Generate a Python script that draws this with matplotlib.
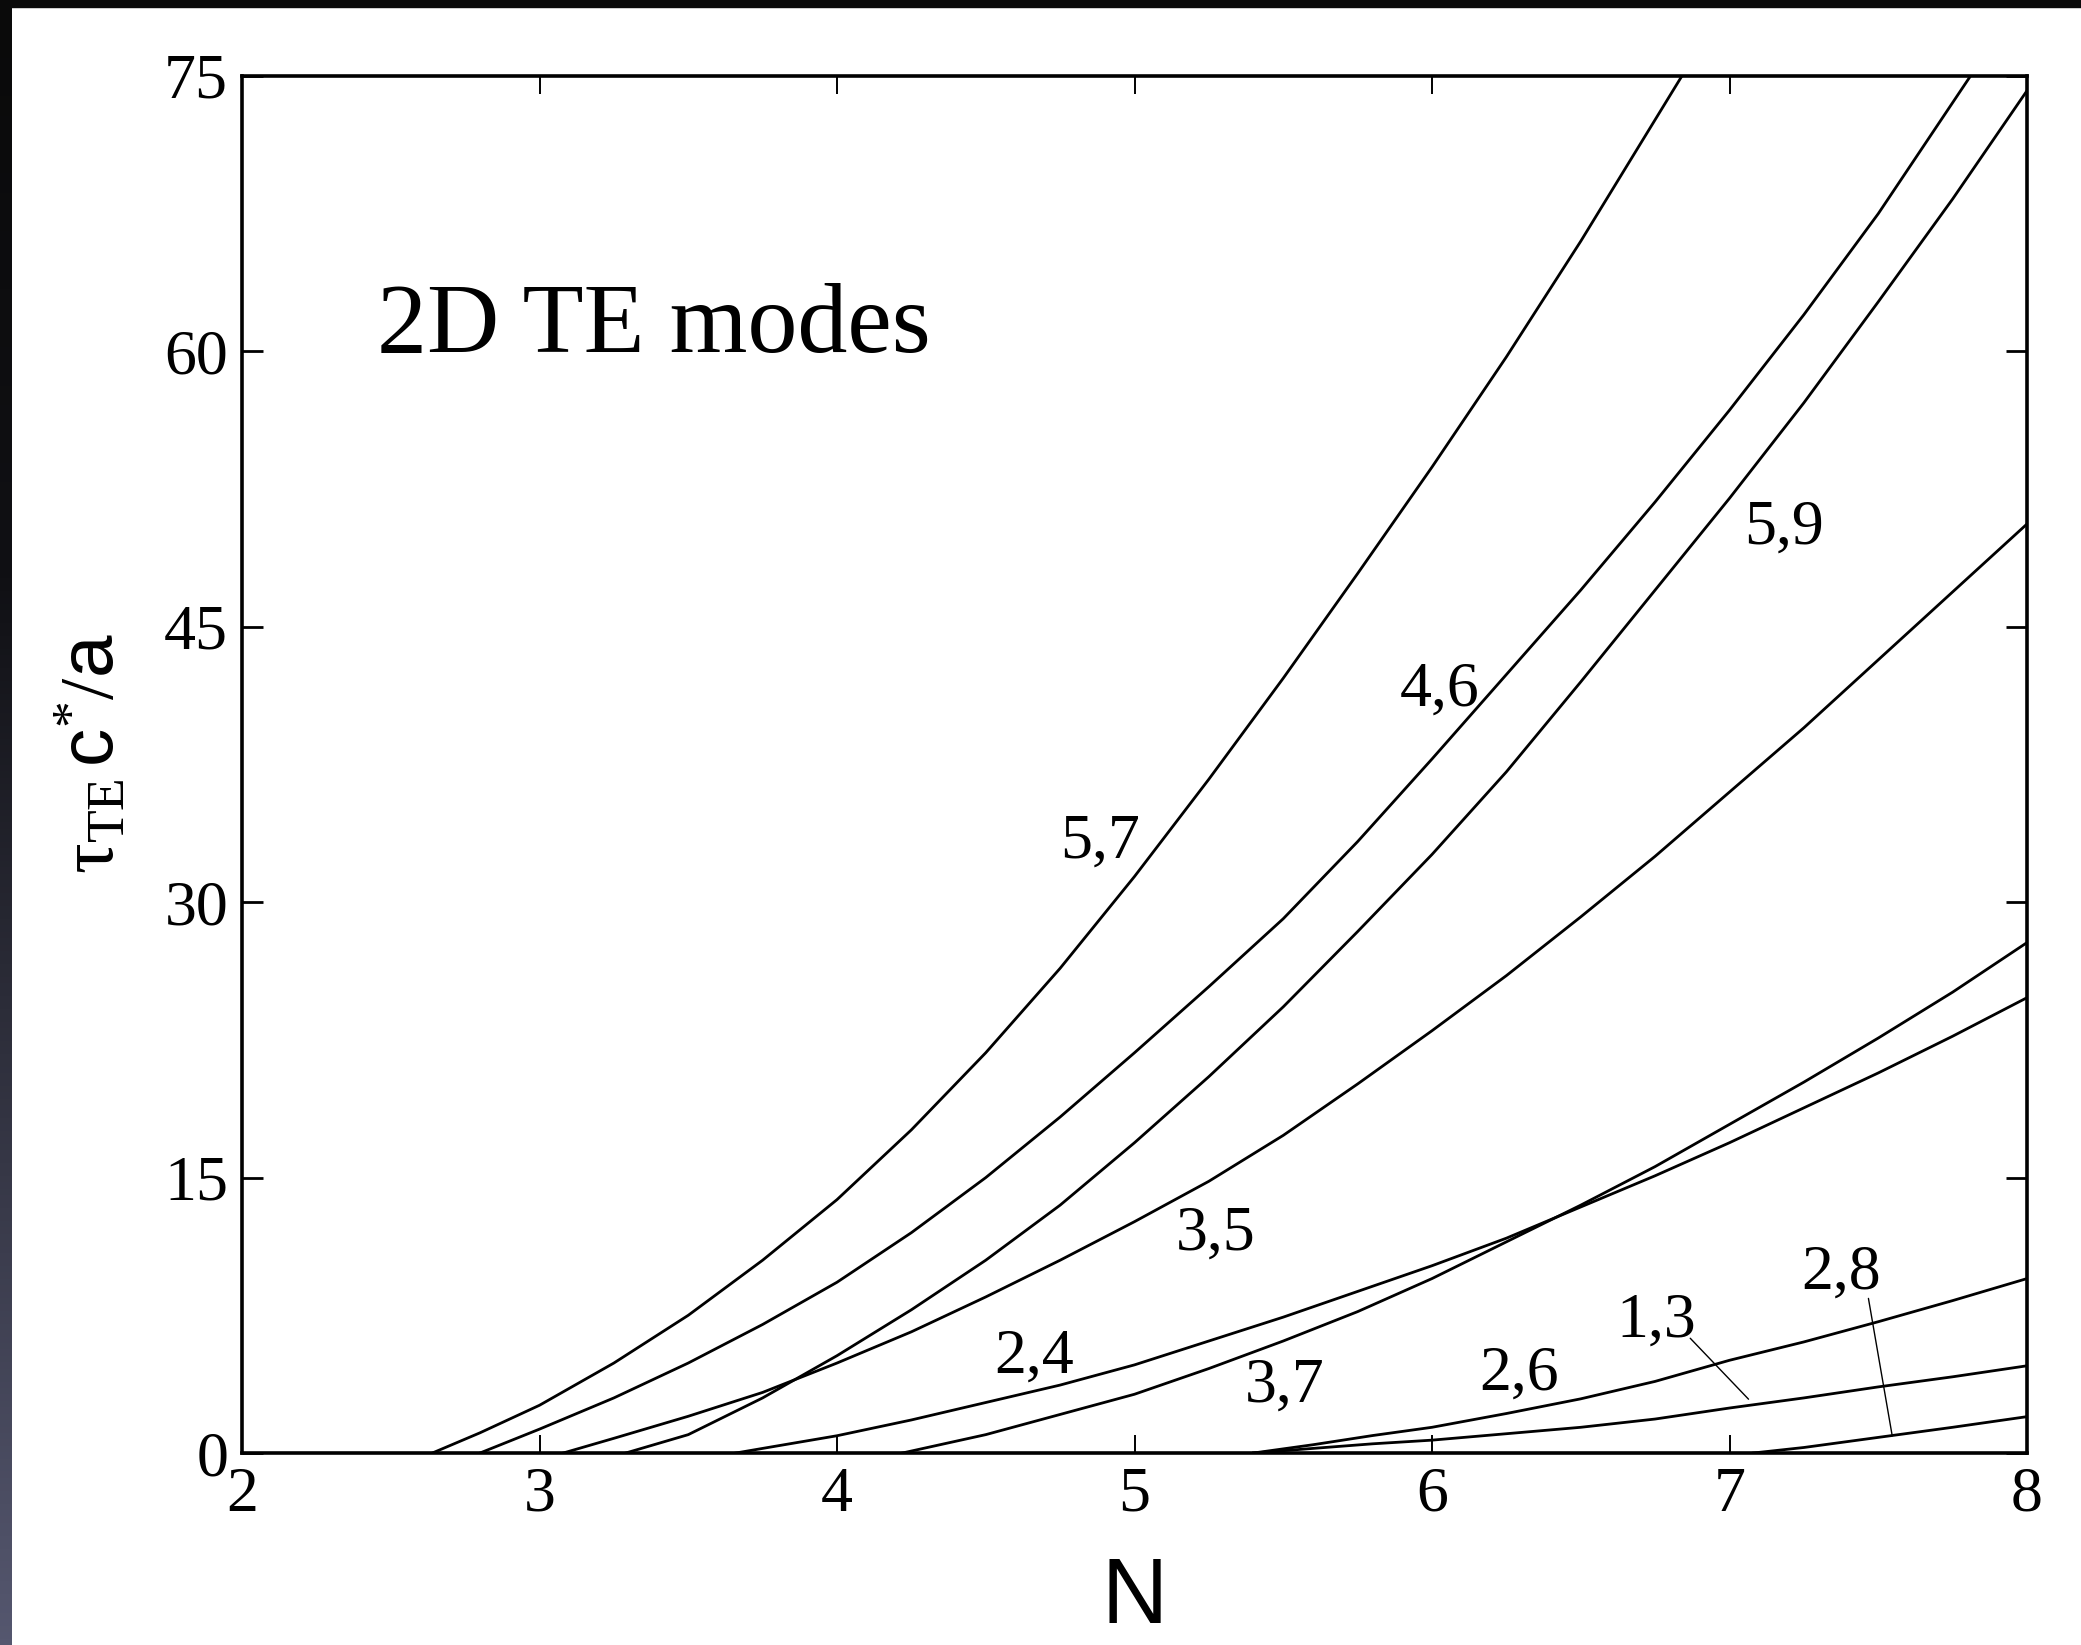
import numpy as np
import matplotlib
matplotlib.use("Agg")
import matplotlib.pyplot as plt
from matplotlib.patches import Rectangle

plt.rcParams['font.family'] = ['Liberation Serif', 'DejaVu Serif']
plt.rcParams['mathtext.fontset'] = 'custom'
plt.rcParams['mathtext.rm'] = 'Liberation Serif'
plt.rcParams['mathtext.sf'] = 'Liberation Sans'
plt.rcParams['mathtext.it'] = 'Liberation Serif:italic'

# curves: N on x, tau_TE c*/a on y
n_57 = [2.64, 2.80, 3.00, 3.25, 3.50, 3.75, 4.00, 4.25, 4.50, 4.75, 5.00, 5.25, 5.50, 5.75, 6.00, 6.25, 6.50, 6.84]
tau_57 = [0.0, 1.1, 2.6, 4.9, 7.5, 10.5, 13.8, 17.6, 21.8, 26.4, 31.4, 36.7, 42.2, 47.9, 53.7, 59.7, 66.0, 75.0]

n_46 = [2.80, 3.00, 3.25, 3.50, 3.75, 4.00, 4.25, 4.50, 4.75, 5.00, 5.25, 5.50, 5.75, 6.00, 6.25, 6.50, 6.75, 7.00, 7.25, 7.50, 7.81]
tau_46 = [0.0, 1.3, 3.0, 4.9, 7.0, 9.3, 12.0, 15.0, 18.3, 21.8, 25.4, 29.1, 33.3, 37.8, 42.4, 47.0, 51.8, 56.8, 62.0, 67.5, 75.0]

n_59 = [3.29, 3.50, 3.75, 4.00, 4.25, 4.50, 4.75, 5.00, 5.25, 5.50, 5.75, 6.00, 6.25, 6.50, 6.75, 7.00, 7.25, 7.50, 7.75, 8.00]
tau_59 = [0.0, 1.0, 3.0, 5.3, 7.8, 10.5, 13.5, 16.9, 20.5, 24.3, 28.4, 32.6, 37.1, 42.0, 47.0, 52.0, 57.2, 62.7, 68.3, 74.2]

n_35 = [3.08, 3.25, 3.50, 3.75, 4.00, 4.25, 4.50, 4.75, 5.00, 5.25, 5.50, 5.75, 6.00, 6.25, 6.50, 6.75, 7.00, 7.25, 7.50, 7.75, 8.00]
tau_35 = [0.0, 0.8, 2.0, 3.3, 4.9, 6.6, 8.5, 10.5, 12.6, 14.8, 17.3, 20.1, 23.0, 26.0, 29.2, 32.5, 36.0, 39.5, 43.2, 46.9, 50.6]

n_24 = [3.66, 3.75, 4.00, 4.25, 4.50, 4.75, 5.00, 5.25, 5.50, 5.75, 6.00, 6.25, 6.50, 6.75, 7.00, 7.25, 7.50, 7.75, 8.00]
tau_24 = [0.0, 0.25, 0.94, 1.8, 2.75, 3.7, 4.8, 6.1, 7.4, 8.8, 10.2, 11.7, 13.4, 15.1, 16.9, 18.8, 20.7, 22.7, 24.8]

n_37 = [4.22, 4.50, 4.75, 5.00, 5.25, 5.50, 5.75, 6.00, 6.25, 6.50, 6.75, 7.00, 7.25, 7.50, 7.75, 8.00]
tau_37 = [0.0, 1.0, 2.1, 3.2, 4.6, 6.1, 7.7, 9.5, 11.5, 13.5, 15.6, 17.9, 20.2, 22.6, 25.1, 27.8]

n_26 = [5.40, 5.60, 5.80, 6.00, 6.25, 6.50, 6.75, 7.00, 7.25, 7.50, 7.75, 8.00]
tau_26 = [0.0, 0.45, 0.95, 1.4, 2.15, 2.95, 3.9, 5.05, 6.05, 7.15, 8.3, 9.5]

n_13 = [5.40, 5.60, 5.80, 6.00, 6.25, 6.50, 6.75, 7.00, 7.25, 7.50, 7.75, 8.00]
tau_13 = [0.0, 0.25, 0.5, 0.7, 1.05, 1.4, 1.85, 2.45, 3.0, 3.6, 4.15, 4.75]

n_28 = [7.08, 7.25, 7.50, 7.75, 8.00]
tau_28 = [0.0, 0.3, 0.85, 1.4, 1.98]

x_ticks = [2, 3, 4, 5, 6, 7, 8]
y_ticks = [0, 15, 30, 45, 60, 75]


def draw_frame(fig):
    # dark border of the original screenshot
    fig.add_artist(Rectangle((0, 1 - 7 / 1645), 1, 7 / 1645, transform=fig.transFigure,
                             color='#0a0a0a', zorder=10))
    strip = fig.add_axes([0, 0, 12 / 2081, 1])
    grad = np.linspace(0, 1, 256).reshape(-1, 1)
    cmap = matplotlib.colors.LinearSegmentedColormap.from_list(
        'edge', [(0, '#0a0a0a'), (0.35, '#101014'), (1, '#55576f')])
    strip.imshow(grad, aspect='auto', cmap=cmap, origin='upper')
    strip.set_axis_off()


def draw_curves(ax):
    curves = [(n_57, tau_57), (n_46, tau_46), (n_59, tau_59), (n_35, tau_35),
              (n_24, tau_24), (n_37, tau_37), (n_26, tau_26), (n_13, tau_13),
              (n_28, tau_28)]
    for n, tau in curves:
        ax.plot(n, tau, color='black', lw=2.0, solid_joinstyle='round')


def label_curves(ax):
    spots = [('5,7', 4.75, 32.4), ('4,6', 5.89, 40.7), ('5,9', 7.05, 49.55),
             ('3,5', 5.14, 11.1), ('2,4', 4.53, 4.35), ('3,7', 5.37, 2.8),
             ('2,6', 6.16, 3.43), ('1,3', 6.62, 6.34), ('2,8', 7.24, 8.97)]
    for text, x, y in spots:
        ax.text(x, y, text, fontsize=46, ha='left', va='baseline')
    # leader lines for the two crowded labels
    ax.annotate('', xy=(7.064, 2.93), xytext=(6.868, 6.25),
                arrowprops=dict(arrowstyle='-', lw=1.0, shrinkA=0, shrinkB=0))
    ax.annotate('', xy=(7.547, 0.93), xytext=(7.467, 8.42),
                arrowprops=dict(arrowstyle='-', lw=1.0, shrinkA=0, shrinkB=0))
    ax.text(2.454, 59.97, '2D TE modes', fontsize=72, ha='left', va='baseline')


def main():
    fig = plt.figure(figsize=(20.81, 16.45), dpi=100, facecolor='white')
    ax = fig.add_axes([242 / 2081, 1 - 1453 / 1645, 1785 / 2081, 1377 / 1645])

    draw_curves(ax)
    label_curves(ax)

    ax.set_xlim(2, 8)
    ax.set_ylim(0, 75)
    ax.set_xticks(x_ticks)
    ax.set_yticks(y_ticks)
    ax.tick_params(axis='x', direction='in', length=13, width=1.4, labelsize=46,
                   pad=10, top=True)
    ax.tick_params(axis='y', direction='in', length=15, width=2.0, labelsize=46,
                   pad=10, right=True)
    for s in ax.spines.values():
        s.set_linewidth(2.6)

    ax.set_xlabel('N', fontsize=66, family=['Liberation Sans'], va='baseline')
    ax.xaxis.set_label_coords(0.5, -0.1235)
    ax.set_ylabel(r'$\mathrm{\tau}_{\mathrm{TE}}\,\mathsf{c}^{*}/\mathsf{a}$',
                  fontsize=55, va='center')
    ax.yaxis.set_label_coords(-0.084, 0.508)

    draw_frame(fig)
    fig.savefig('out.png', dpi=100, facecolor='white')


if __name__ == "__main__":
    main()
